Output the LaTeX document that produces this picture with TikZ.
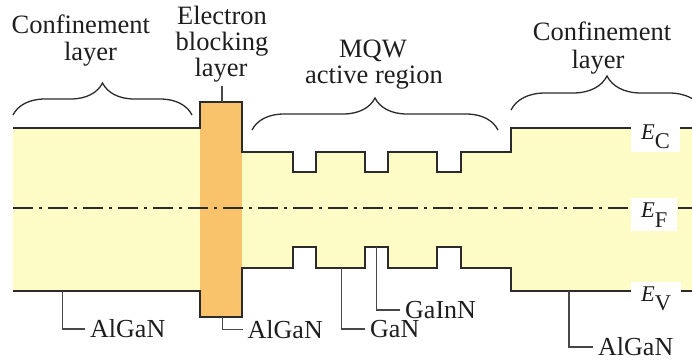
\documentclass[tikz,border=0pt]{standalone}
\usepackage{fontspec}
\setmainfont{Liberation Serif}
\usetikzlibrary{decorations.pathreplacing}
\definecolor{bandfill}{HTML}{FEFCC6}
\definecolor{eblfill}{HTML}{F9C36C}
\definecolor{lineclr}{HTML}{2B2B2B}
\definecolor{leadclr}{HTML}{474747}
\definecolor{txtclr}{HTML}{1E1E1E}
\begin{document}
\begin{tikzpicture}[x=1pt,y=-1pt,
  band/.style={draw=lineclr,line width=2pt},
  lead/.style={draw=leadclr,line width=1.3pt},
  bracestyle/.style={draw=lineclr,line width=1.3pt,decorate,decoration={brace,amplitude=#1}},
  txt/.style={inner sep=0pt,anchor=base,text=txtclr,font=\fontsize{26.5}{28}\selectfont},
  mat/.style={anchor=west,inner xsep=5pt,inner ysep=0pt,text=txtclr,font=\fontsize{26}{28}\selectfont},
  elab/.style={fill=white,anchor=base west,inner xsep=10pt,inner ysep=4pt,text=txtclr,font=\fontsize{22.5}{24}\selectfont}]
\useasboundingbox (0,0) rectangle (692,362);
\clip (0,0) rectangle (692,362);
% band region
\fill[bandfill] (13,127.7) -- (242,127.7) -- (242,151.7) -- (292.7,151.7) -- (292.7,172) -- (316,172) -- (316,151.7)
  -- (365,151.7) -- (365,172) -- (388.3,172) -- (388.3,151.7) -- (437.3,151.7) -- (437.3,172) -- (460.7,172) -- (460.7,151.7)
  -- (511,151.7) -- (511,127.7) -- (692,127.7) -- (692,290.7) -- (511,290.7) -- (511,267.7)
  -- (460.7,267.7) -- (460.7,246.7) -- (437.3,246.7) -- (437.3,267.7) -- (388.3,267.7) -- (388.3,246.7) -- (365,246.7) -- (365,267.7)
  -- (316,267.7) -- (316,246.7) -- (292.7,246.7) -- (292.7,267.7) -- (242,267.7) -- (242,290.7) -- (13,290.7) -- cycle;
\fill[eblfill] (200,101.7) rectangle (242,317);
% Fermi level
\draw[lineclr,line width=1.8pt,dash pattern=on 20pt off 6pt on 3pt off 6pt] (13,208) -- (692,208);
% conduction band
\draw[band,line join=miter] (13,127.7) -- (200,127.7) -- (200,101.7) -- (242,101.7) -- (242,151.7) -- (292.7,151.7) -- (292.7,172) -- (316,172) -- (316,151.7)
  -- (365,151.7) -- (365,172) -- (388.3,172) -- (388.3,151.7) -- (437.3,151.7) -- (437.3,172) -- (460.7,172) -- (460.7,151.7)
  -- (511,151.7) -- (511,127.7) -- (692,127.7);
% valence band
\draw[band,line join=miter] (13,290.7) -- (200,290.7) -- (200,317) -- (242,317) -- (242,267.7) -- (292.7,267.7) -- (292.7,246.7) -- (316,246.7) -- (316,267.7)
  -- (365,267.7) -- (365,246.7) -- (388.3,246.7) -- (388.3,267.7) -- (437.3,267.7) -- (437.3,246.7) -- (460.7,246.7) -- (460.7,267.7)
  -- (511,267.7) -- (511,290.7) -- (692,290.7);
% energy labels
\node[elab] (ec) at (631,139) {\textit{E}\raisebox{-0.4em}{C}};
\node[elab] (ef) at (631,217) {\textit{E}\raisebox{-0.45em}{F}};
\node[elab] (ev) at (631,301) {\textit{E}\raisebox{-0.42em}{V}};
% braces
\draw[bracestyle=32pt] (13,115) -- (192,115);
\draw[bracestyle=32pt] (252,130) -- (498,130);
\draw[bracestyle=34pt] (511,110) -- (703,110);
% top texts
\node[txt] (conf1a) at (80.8,33) {Confinement};
\node[txt] (conf1b) at (90.5,60) {layer};
\node[txt] (ebla) at (222,24) {Electron};
\node[txt] (eblb) at (222,50) {blocking};
\node[txt] (eblc) at (221,76) {layer};
\node[txt] (mqwa) at (373,57) {MQW};
\node[txt] (mqwb) at (374,83) {active region};
\node[txt] (conf2a) at (602,40) {Confinement};
\node[txt] (conf2b) at (598,68) {layer};
% EBL lead
\coordinate (eblT) at (222,101.7);
\draw[lead,shorten >=4pt] (eblT) -- (eblT |- eblc.south);
% material labels
\coordinate (vbL) at (62.7,290.7);
\coordinate (eblB) at (222.7,317);
\coordinate (ganP) at (341.5,267.7);
\coordinate (gainnP) at (376.7,246.7);
\coordinate (vbR) at (569,290.7);
\node[mat] (algan1) at (85,329) {AlGaN};
\node[mat] (algan2) at (242.5,329.5) {AlGaN};
\node[mat] (gan) at (365,329) {GaN};
\node[mat] (gainn) at (400,310) {GaInN};
\node[mat] (algan3) at (593,347) {AlGaN};
\draw[lead] (vbL) |- (algan1.west);
\draw[lead] (eblB) |- (algan2.west);
\draw[lead] (ganP) |- (gan.west);
\draw[lead] (gainnP) |- (gainn.west);
\draw[lead] (vbR) |- (algan3.west);
\end{tikzpicture}
\end{document}
